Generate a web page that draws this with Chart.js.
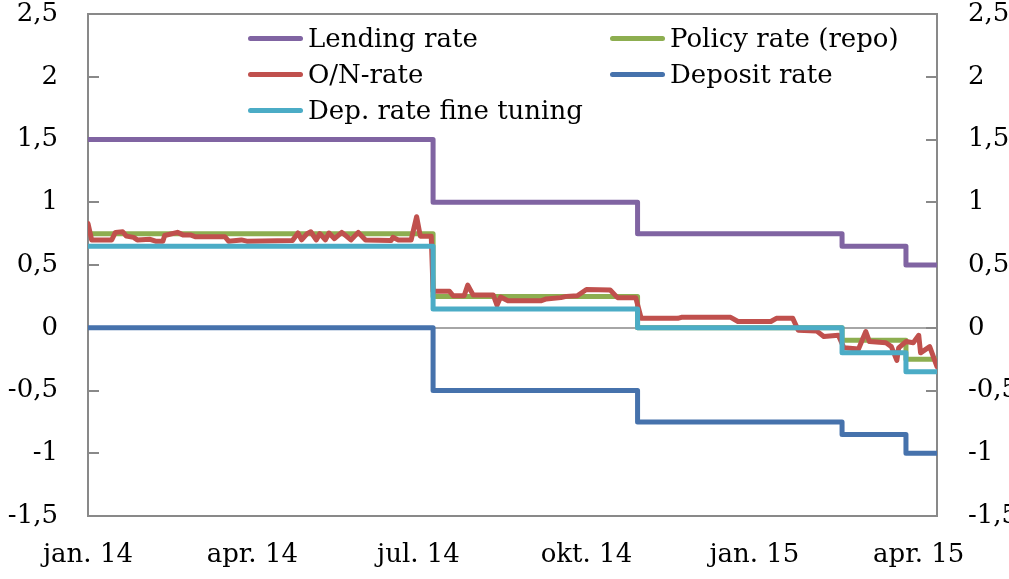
<!DOCTYPE html>
<html>
<head>
<meta charset="utf-8">
<script src="https://cdn.jsdelivr.net/npm/chart.js@4/dist/chart.umd.min.js"></script>
<style>
html, body { margin: 0; padding: 0; background: #fff; }
#wrap { position: relative; width: 1009px; height: 579px; }
#legend {
    position: absolute; left: 248px; top: 20px;
    display: grid; grid-template-columns: 362px auto;
    font-family: 'DejaVu Serif'; font-size: 26px; color: #000;
}
.item { display: flex; align-items: center; height: 36px; white-space: nowrap; }
.swatch { width: 55px; height: 5px; border-radius: 3px; margin-right: 5px; }
</style>
</head>
<body>
<div id="wrap">
    <canvas id="rateChart" width="1009" height="579"></canvas>
    <div id="legend"></div>
</div>
<script>
const start = Date.UTC(2014, 0, 1);
const dayOf = s => Math.round((Date.parse(s) - start) / 86400000);

// Riksbank-rates, change dates
const changeDates = ['2014-01-01', '2014-07-09', '2014-10-29', '2015-02-18', '2015-03-25'];
const endDate = '2015-04-11';
const lendingRate = [1.5, 1.0, 0.75, 0.65, 0.5];
const policyRate = [0.75, 0.25, 0, -0.1, -0.25];
const depositRate = [0, -0.5, -0.75, -0.85, -1.0];
const fineTuningRate = [0.65, 0.15, 0, -0.2, -0.35];

// O/N-rate, days since 1 jan 2014
const onDay = [0, 2, 13, 15, 19, 21, 25, 27, 34, 37, 41, 42, 49, 52, 56, 59, 75, 77, 84, 87,
    112, 115, 117, 120, 122, 125, 127, 130, 132, 135, 139, 144, 148, 152, 166, 167, 170, 177, 180, 182, 188,
    189, 198, 200, 206, 208, 211, 222, 224, 226, 230, 248, 251, 259, 262, 268, 273, 286, 290, 300,
    303, 323, 325, 352, 356, 374, 377, 386, 389, 399, 403, 411,
    414, 422, 424, 426, 428, 437, 440, 443, 444, 448, 452, 455, 456, 461, 465];
const onRate = [0.83, 0.70, 0.70, 0.76, 0.765, 0.73, 0.72, 0.70, 0.705, 0.69, 0.69, 0.735, 0.76, 0.74, 0.74, 0.725, 0.725, 0.69, 0.70, 0.69,
    0.695, 0.755, 0.70, 0.75, 0.765, 0.70, 0.75, 0.70, 0.755, 0.71, 0.76, 0.70, 0.76, 0.70, 0.695, 0.72, 0.70, 0.70, 0.885, 0.73, 0.73,
    0.29, 0.29, 0.255, 0.255, 0.34, 0.26, 0.26, 0.18, 0.245, 0.215, 0.215, 0.23, 0.24, 0.25, 0.255, 0.305, 0.30, 0.24, 0.24,
    0.075, 0.075, 0.083, 0.083, 0.05, 0.05, 0.075, 0.075, -0.02, -0.025, -0.07, -0.06,
    -0.16, -0.17, -0.1, -0.03, -0.11, -0.12, -0.15, -0.26, -0.16, -0.11, -0.12, -0.06, -0.2, -0.15, -0.31];

const tickDays = [0, 90, 181, 273, 365, 455];
const tickLabels = ['jan. 14', 'apr. 14', 'jul. 14', 'okt. 14', 'jan. 15', 'apr. 15'];

function steps(vals) {
    const pts = changeDates.map((d, i) => ({ x: dayOf(d), y: vals[i] }));
    pts.push({ x: dayOf(endDate), y: vals[vals.length - 1] });
    return pts;
}

const fontTicks = { family: 'DejaVu Serif', size: 26 };
const axisGray = '#898989';
const fmt = v => String(v).replace('.', ',');

// ramme + små streker innover
const frame = {
    id: 'frame',
    beforeDatasetsDraw(chart) {
        const { ctx, chartArea: a, scales } = chart;
        ctx.save();
        ctx.strokeStyle = axisGray;
        ctx.lineWidth = 2;
        ctx.strokeRect(a.left, a.top, a.right - a.left, a.bottom - a.top);
        ctx.beginPath();
        scales.y.ticks.forEach(t => {
            const y = Math.round(scales.y.getPixelForValue(t.value));
            ctx.moveTo(a.left, y); ctx.lineTo(a.left + 11, y);
            ctx.moveTo(a.right - 11, y); ctx.lineTo(a.right, y);
        });
        ctx.stroke();
        ctx.restore();
    }
};

const lineDs = (label, data, color, order, stepped) => ({
    label, data, borderColor: color, backgroundColor: color,
    borderWidth: 5, pointRadius: 0, tension: 0, stepped, order,
    borderJoinStyle: 'round', borderCapStyle: 'round'
});

const datasets = [
    lineDs('Lending rate', steps(lendingRate), '#8064A2', 4, true),
    lineDs('Policy rate (repo)', steps(policyRate), '#8DAE50', 3, true),
    lineDs('O/N-rate', onDay.map((d, i) => ({ x: d, y: onRate[i] })), '#C0504D', 2, false),
    lineDs('Deposit rate', steps(depositRate), '#4672AC', 5, true),
    lineDs('Dep. rate fine tuning', steps(fineTuningRate), '#4BACC6', 1, true)
];

const noPad = s => { s.paddingTop = 0; s.paddingBottom = 0; };

const ctx = document.getElementById('rateChart').getContext('2d');
const rateChart = new Chart(ctx, {
    type: 'line',
    data: { datasets },
    options: {
        responsive: false, animation: false,
        layout: { padding: { top: 14, left: 0, right: 0, bottom: 0 } },
        plugins: { legend: { display: false }, tooltip: { enabled: false } },
        scales: {
            x: {
                type: 'linear', min: 0, max: dayOf(endDate),
                afterBuildTicks: s => { s.ticks = tickDays.map(v => ({ value: v })); },
                afterFit: s => { s.height = 63; s.paddingLeft = 0; s.paddingRight = 0; },
                grid: { display: false, drawTicks: false },
                border: { display: false },
                ticks: {
                    font: fontTicks, color: '#000', padding: 24, autoSkip: false, maxRotation: 0,
                    callback: v => tickLabels[tickDays.indexOf(v)]
                }
            },
            y: {
                position: 'left', min: -1.5, max: 2.5,
                afterFit: s => { s.width = 88; noPad(s); },
                grid: {
                    drawTicks: false, lineWidth: 2,
                    color: c => c.tick && c.tick.value === 0 ? '#a6a6a6' : 'rgba(0,0,0,0)'
                },
                border: { display: false },
                ticks: { stepSize: 0.5, font: fontTicks, color: '#000', padding: 30, callback: fmt }
            },
            y2: {
                position: 'right', min: -1.5, max: 2.5,
                afterFit: s => { s.width = 72; noPad(s); },
                grid: { drawOnChartArea: false, drawTicks: false },
                border: { display: false },
                ticks: { stepSize: 0.5, font: fontTicks, color: '#000', padding: 31, callback: fmt }
            }
        }
    },
    plugins: [frame]
});

// legende i to kolonner
const legendEl = document.getElementById('legend');
rateChart.data.datasets.forEach(ds => {
    const item = document.createElement('div');
    item.className = 'item';
    item.innerHTML = `<span class="swatch" style="background:${ds.borderColor}"></span>${ds.label}`;
    legendEl.appendChild(item);
});
</script>
</body>
</html>
